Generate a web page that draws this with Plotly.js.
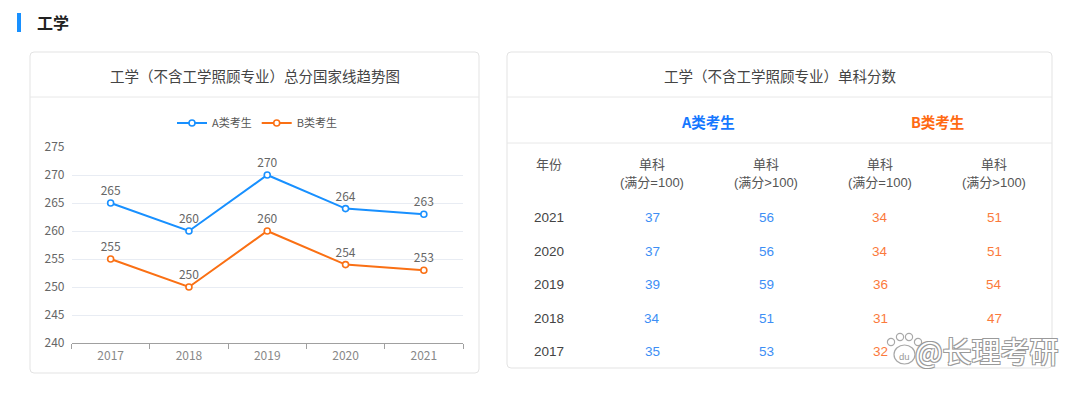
<!DOCTYPE html>
<html><head><meta charset="utf-8">
<script src="https://cdn.plot.ly/plotly-3.0.1.min.js"></script>
<style>html,body{margin:0;padding:0;background:#fff;overflow:hidden}#chart{width:1080px;height:393px;}</style>
</head><body><div id="chart"></div>
<script>
// ---- data ----
const years = ['2017','2018','2019','2020','2021'];
const totalA = [265,260,270,264,263];
const totalB = [255,250,260,254,253];
const seriesNames = ['A类考生','B类考生'];
const yTicks = [240,245,250,255,260,265,270,275];

const tableYears = ['2021','2020','2019','2018','2017'];
const singleA100 = [37,37,39,34,35];
const singleAOver = [56,56,59,51,53];
const singleB100 = [34,34,36,31,32];
const singleBOver = [51,51,54,47,null]; // 2017 value hidden by watermark
const groupHeaders = ['A类考生','B类考生'];
const colTop = ['单科','单科','单科','单科'];
const colBottom = ['(满分=100)','(满分&gt;100)','(满分=100)','(满分&gt;100)'];

const pageTitle = '工学';
const chartTitle = '工学（不含工学照顾专业）总分国家线趋势图';
const tableTitle = '工学（不含工学照顾专业）单科分数';
const yearHeader = '年份';
const watermark = '@长理考研';

// ---- helpers ----
const W = 1080, H = 393;
const X = px => px / W;
const Y = py => 1 - py / H;
const CJK = '"Noto Sans CJK SC", "Microsoft YaHei", sans-serif';
const NUM = '"Liberation Sans", Arial, "Noto Sans CJK SC", sans-serif';
const BLUE = '#1890ff', ORANGE = '#fa7014';
const TBLUE = '#3d8ef5', TORANGE = '#fb7a3c';

function roundRect(x0, y0, x1, y1, r, line, fill) {
  const p = `M${X(x0+r)},${Y(y0)} L${X(x1-r)},${Y(y0)} Q${X(x1)},${Y(y0)} ${X(x1)},${Y(y0+r)} ` +
            `L${X(x1)},${Y(y1-r)} Q${X(x1)},${Y(y1)} ${X(x1-r)},${Y(y1)} L${X(x0+r)},${Y(y1)} ` +
            `Q${X(x0)},${Y(y1)} ${X(x0)},${Y(y1-r)} L${X(x0)},${Y(y0+r)} Q${X(x0)},${Y(y0)} ${X(x0+r)},${Y(y0)} Z`;
  return {type:'path', xref:'paper', yref:'paper', path:p, line:{color:line, width:1}, fillcolor:fill, layer:'below'};
}
function hline(x0, x1, y, color) {
  return {type:'line', xref:'paper', yref:'paper', x0:X(x0), x1:X(x1), y0:Y(y), y1:Y(y), line:{color:color, width:1}, layer:'below'};
}
function txt(text, x, y, size, color, opts) {
  return Object.assign({text:text, x:X(x), y:Y(y), xref:'paper', yref:'paper', showarrow:false,
    xanchor:'center', yanchor:'middle', font:{family:CJK, size:size, color:color}}, opts || {});
}

// ---- traces ----
const mk = (ys, name, color) => ({
  type:'scatter', mode:'lines+markers+text', x:years, y:ys, name:name,
  line:{color:color, width:2},
  marker:{symbol:'circle', size:6, color:'#fff', line:{color:color, width:1.6}},
  text: ys.map(String), textposition:'top center',
  textfont:{family:CJK, size:12, color:'#666'}, cliponaxis:false,
  hoverinfo:'x+y'
});
const traces = [mk(totalA, seriesNames[0], BLUE), mk(totalB, seriesNames[1], ORANGE)];

// ---- shapes ----
const shapes = [
  {type:'rect', xref:'paper', yref:'paper', x0:X(17), x1:X(21), y0:Y(13), y1:Y(32), fillcolor:BLUE, line:{width:0}, layer:'below'},
  roundRect(30, 52, 479, 373, 4, '#e3e3e3', '#fff'),
  hline(30, 479, 97, '#e8e8e8'),
  roundRect(507, 52, 1052, 368, 4, '#e3e3e3', '#fff'),
  hline(507, 1052, 97, '#e8e8e8'),
  hline(507, 1052, 143, '#e8e8e8')
];
// watermark paw icon
const paw = [[891,342,3.6],[900,337,3.6],[909,337,3.6],[918,342,3.6]];
paw.forEach(c => shapes.push({type:'circle', xref:'paper', yref:'paper', x0:X(c[0]-c[2]), x1:X(c[0]+c[2]), y0:Y(c[1]-c[2]), y1:Y(c[1]+c[2]), line:{color:'#a8a8a8', width:1.2}, fillcolor:'rgba(255,255,255,0.9)', layer:'above'}));
shapes.push({type:'circle', xref:'paper', yref:'paper', x0:X(894), x1:X(915), y0:Y(345), y1:Y(364), line:{color:'#a8a8a8', width:1.2}, fillcolor:'rgba(255,255,255,0.9)', layer:'above'});

// ---- annotations ----
const ann = [
  txt(pageTitle, 35, 22, 16, '#222', {xanchor:'left', font:{family:CJK, size:16, color:'#222', weight:'bold'}}),
  txt(chartTitle, 255, 75, 14.5, '#444'),
  txt(tableTitle, 780, 75, 14.5, '#444'),
  txt(groupHeaders[0], 708, 121, 14, BLUE, {font:{family:CJK, size:14.5, color:'#1677ff', weight:'bold'}}),
  txt(groupHeaders[1], 937, 121, 14, ORANGE, {font:{family:CJK, size:14.5, color:'#ff6a13', weight:'bold'}}),
  txt(yearHeader, 549, 164, 13, '#555')
];
const colX = [652, 766, 880, 994];
colX.forEach((cx, i) => {
  ann.push(txt(colTop[i], cx, 164, 13, '#555'));
  ann.push(txt(colBottom[i], cx, 182, 12.5, '#555', {font:{family:NUM, size:13, color:'#555'}}));
});
const rowY = [217, 251, 284, 318, 351];
const cols = [singleA100, singleAOver, singleB100, singleBOver];
const colColors = [TBLUE, TBLUE, TORANGE, TORANGE];
tableYears.forEach((yr, r) => {
  ann.push(txt(yr, 549, rowY[r], 13, '#444', {font:{family:NUM, size:13.5, color:'#444'}}));
  cols.forEach((col, c) => {
    if (col[r] !== null) ann.push(txt(String(col[r]), colX[c], rowY[r], 13, colColors[c], {font:{family:NUM, size:13.5, color:colColors[c]}}));
  });
});
ann.push(txt('du', 904.5, 356, 8, '#999', {font:{family:NUM, size:9.5, color:'#999'}}));
ann.push(txt(watermark, 913, 350, 28, '#fff', {xanchor:'left',
  font:{family:CJK, size:29, color:'#ffffff', shadow:'-1px -1px 0 #9a9a9a, 1px -1px 0 #9a9a9a, -1px 1px 0 #9a9a9a, 1px 1px 0 #9a9a9a'}}));

// ---- layout ----
const layout = {
  width:W, height:H, margin:{l:0, r:0, t:0, b:0},
  paper_bgcolor:'#fff', plot_bgcolor:'rgba(0,0,0,0)',
  font:{family:CJK},
  showlegend:true,
  legend:{orientation:'h', x:X(257), xanchor:'center', y:Y(123), yanchor:'middle',
    font:{family:CJK, size:11, color:'#555'}, itemwidth:30, bgcolor:'rgba(0,0,0,0)', tracegroupgap:0},
  xaxis:{domain:[X(71.5), X(463)], type:'category', range:[-0.5, 4.5], showgrid:false, zeroline:false,
    showline:true, linecolor:'#a0a0a0', linewidth:1, ticks:'outside', tickson:'boundaries', ticklen:5,
    tickcolor:'#a0a0a0', ticklabelstandoff:2, tickfont:{family:CJK, size:12, color:'#888'}, fixedrange:true},
  yaxis:{domain:[Y(343), Y(147)], range:[240, 275], tickvals:yTicks, showgrid:true, gridcolor:'#e8ecf3',
    zeroline:false, showline:false, ticks:'', ticklabelstandoff:6, tickfont:{family:CJK, size:12, color:'#666'}, fixedrange:true},
  shapes:shapes, annotations:ann
};
Plotly.newPlot('chart', traces, layout, {displayModeBar:false, staticPlot:true});
</script></body></html>
